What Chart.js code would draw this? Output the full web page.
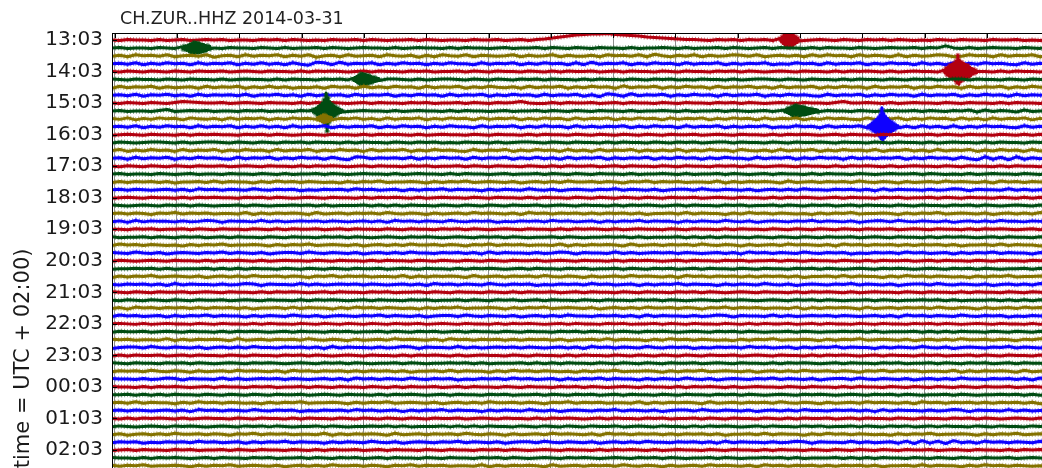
<!DOCTYPE html>
<html>
<head>
<meta charset="utf-8">
<script src="https://cdn.jsdelivr.net/npm/chart.js@4.4.1/dist/chart.umd.min.js"></script>
<style>
  html, body { margin: 0; padding: 0; background: #fff; overflow: hidden; }
  canvas { display: block; }
</style>
</head>
<body>
<canvas id="dayplot" width="1060" height="713"></canvas>
<script>
// Station / day shown in the header and the axis caption
const stationTitle = 'CH.ZUR..HHZ 2014-03-31';
const axisTitle = '(time = UTC + 02:00)';

// One row per hour, four 15-minute traces per row
const hourLabels = ['13:03','14:03','15:03','16:03','17:03','18:03','19:03','20:03','21:03',
  '22:03','23:03','00:03','01:03','02:03','03:03'];

// Trace colours cycle red, green, olive, blue
const traceColors = ['#B2000F', '#004C12', '#847200', '#0E01FF'];
const fuzzColors = ['rgba(178,0,15,0.5)', 'rgba(0,76,18,0.5)', 'rgba(132,114,0,0.5)', 'rgba(14,1,255,0.5)'];

// Minutes covered by each trace
const minuteRange = [-0.043, 14.98];

// Per-trace background noise, one base-36 digit per sample ('5' = zero, each step = one count)
const traceNoise = [
  '54655 46456 45656 45546 56465 45465 56465 45564 65455 46556 45646 79bdf ghhig fedba 98766 54656 46564 65645 65465 46564 65454 65465 54655 64545',
  '56455 46545 64554 65546 54645 56465 45655 46456 55464 65545 64556 46546 54655 46455 65464 55646 54564 65546 46554 65456 55646 59546 45655 46548',
  '46375 64735 64725 63746 57364 72563 74563 75462 63754 73654 57364 57364 46375 64738 53647 36457 64735 64637 47563 74653 73645 76347 56374 65736',
  '56473 64756 37465 73647 46374 28738 46573 64756 36475 53746 57364 75637 38465 73647 56374 65736 46573 54756 37465 73647 56374 63736 47564 37465',
  '54654 65465 46556 45654 65546 46565 45646 55465 64556 46546 55465 46465 56456 46554 65465 54656 46545 65465 54646 56546 45655 46546 55464 65546',
  '65465 54654 65546 45655 46465 54656 46545 66546 45665 46546 54656 46554 64655 46546 56454 65546 45665 46546 55464 65546 54656 45664 65546 54655',
  '37465 73645 63746 57364 74635 46375 63746 47563 74657 36475 46374 65736 47563 84657 36475 63746 57463 74657 36475 63746 57364 75637 46573 64756',
  '56473 65746 37465 64736 57463 74656 37465 73647 56374 65736 47563 74657 36286 38465 73647 56374 65736 47564 37465 73647 56374 65736 47563 74657',
  '54654 65468 76556 45654 65546 46565 45646 55465 64556 46546 56854 46465 56456 46554 65465 54656 46545 65465 54685 56546 45655 46546 55464 65546',
  '56455 46845 65645 54656 45546 56465 45655 46456 55464 65545 64556 46546 54655 46455 65464 55646 54564 65546 46554 65456 55646 54657 37465 37455',
  '64736 47563 75463 74657 36475 64736 57463 74657 36475 63746 57364 75637 46573 64756 37465 73647 56374 65736 47564 37465 73647 56374 63746 57364',
  '56473 64756 37465 73647 46374 65736 46573 64756 36475 53746 57364 75637 46465 73647 56374 65736 46573 54756 37465 73647 56374 63736 47564 37465',
  '45654 65546 46565 54656 46545 65465 54646 56546 45655 46546 55464 65546 54654 65465 46556 45654 65546 46565 45646 55465 64556 46546 55465 46465',
  '46545 66546 45665 46546 54656 46554 64655 46546 56454 65546 45665 46546 55464 65546 54656 45664 65546 54655 65465 54654 65546 45655 46465 54656',
  '57364 75637 46573 64756 37465 73647 56374 65736 47564 37465 73647 56374 63746 57364 64736 47563 75463 74657 36475 64736 57463 74657 36475 63746',
  '56374 65736 47564 37465 73647 56374 28746 56473 64756 37465 73647 46374 65736 46573 64756 36475 53746 57364 75637 46465 73647 56374 28372 83646',
  '54654 65465 46556 45654 65546 46565 45646 55465 64556 46546 55465 46465 56456 46554 65465 54656 46545 65465 54646 56546 45655 46546 55464 65546',
  '56455 46545 64554 65546 54645 56465 45655 46456 55464 65545 64556 46546 54655 46455 65464 55646 54564 65546 46554 65456 55646 54546 45655 46546',
  '46465 64635 56474 65536 47564 65453 64657 45565 36465 74565 46356 46475 56465 36574 65645 54736 46565 37456 46564 75465 36456 47565 46375 64656',
  '56465 45646 37564 65475 46563 54656 47564 56364 65746 55364 65475 46356 54657 46546 35664 75465 46356 46475 54656 46374 65546 45763 65547 46456',
  '45654 65546 46565 54656 46545 65465 54646 56546 45655 46546 55464 65546 54654 65465 46556 45654 65546 46565 45646 55465 64556 46546 55465 46465',
  '65456 54656 46545 56465 45565 64645 55646 46465 54654 65465 46556 45654 65546 46565 45646 55465 64556 46546 56456 46554 65465 54656 46545 65465',
  '56465 36574 65645 54736 46565 37456 46564 75465 36456 47565 46375 64656 46465 64635 56474 65536 47564 65453 64657 45565 36465 74565 46356 46475',
  '46374 65546 45763 65547 46456 56465 45646 37564 65475 46563 54656 47564 56364 65746 55364 65475 46356 54657 46546 35664 75465 46356 46475 54656',
  '55465 64556 46546 55465 46465 56456 46554 65465 54656 46545 65465 54646 56546 45655 46546 55464 65546 54654 65465 46556 45654 65546 46565 45646',
  '64556 46546 56456 46554 65465 54656 46545 65465 65456 54656 46545 56465 45565 64645 55646 46465 54654 65465 46556 45654 65546 46565 45646 55465',
  '47564 65453 64657 45565 36465 74565 46356 46475 56465 36574 65645 54736 46565 37456 46564 75465 36456 47565 46375 64656 46465 64635 56474 65536',
  '65475 46356 54657 46546 35664 75465 46356 46475 54656 46374 65546 45763 65547 46456 56465 45646 37564 65475 46563 54656 47564 56364 65746 55364',
  '46545 65465 54646 56546 45655 46546 55464 65546 54654 65465 46556 45654 65546 46565 45646 55465 64556 46546 55465 46465 56456 46554 65465 54656',
  '45565 64645 55646 46465 54654 65465 46556 45654 65546 46565 45646 55465 64556 46546 56456 46554 65465 54656 46545 65465 65456 54656 46545 56465',
  '36465 74565 46356 46475 56465 36574 65645 54736 46565 37456 46564 75465 36456 47565 46375 64656 46465 64635 56474 65536 47564 65453 64657 45565',
  '54656 46374 65546 45763 65547 46456 56465 45646 37564 65475 46563 54656 47564 56364 65746 55364 65475 46356 54657 46546 35664 75465 46356 46475',
  '65465 46556 45654 65546 46565 45646 55465 64556 46546 55465 46465 56456 46554 65465 54656 46545 65465 54646 56546 45655 46546 55464 65546 54654',
  '54654 65465 46556 45654 65546 46565 45646 55465 64556 46546 56456 46554 65465 54656 46545 65465 65456 54656 46545 56465 45565 64645 55646 46465',
  '46375 64656 46465 64635 56474 65536 47564 65453 64657 45565 36465 74565 46356 46475 56465 36574 65645 54736 46565 37456 46564 75465 36456 47565',
  '47564 56364 65746 55364 65475 46356 54657 46546 35664 75465 46356 46475 54656 46374 65546 45763 65547 46456 56465 45646 37564 65475 46563 54656',
  '56546 45655 46546 55464 65546 54654 65465 46556 45654 65546 46565 45646 55465 64556 46546 55465 46465 56456 46554 65465 54656 46545 65465 54646',
  '46556 45654 65546 46565 45646 55465 64556 46546 56456 46554 65465 54656 46545 65465 65456 54656 46545 56465 45565 64645 55646 46465 54654 65465',
  '65645 54736 46565 37456 46564 75465 36456 47565 46375 64656 46465 64635 56474 65536 47564 65453 64657 45565 36465 74565 46356 46475 56465 36574',
  '35664 75465 46356 46475 54656 46374 65546 45763 65547 46456 56465 45646 37564 65475 46563 54656 47564 56364 65746 55364 65475 46356 54657 46546',
  '46465 56456 46554 65465 54656 46545 65465 54646 56546 45655 46546 55464 65546 54654 65465 46556 45654 65546 46565 45646 55465 64556 46546 55465',
  '65465 54656 46545 65465 65456 54656 46545 56465 45565 64645 55646 46465 54654 65465 46556 45654 65546 46565 45646 55465 64556 46546 56456 46554',
  '46564 75465 36456 47565 46375 64656 46465 64635 56474 65536 47564 65453 64657 45565 36465 74565 46356 46475 56465 36574 65645 54736 46565 37456',
  '65546 45763 65547 46456 56465 45646 37564 65475 46563 54656 47564 56364 65746 55364 65475 46356 54657 46546 35664 75465 46356 46475 54656 46374',
  '65546 46565 45646 55465 64556 46546 55465 46465 56456 46554 65465 54656 46545 65465 54646 56546 45655 46546 55464 65546 54654 65465 46556 45654',
  '55646 46465 54654 65465 46556 45654 65546 46565 45646 55465 64556 46546 56456 46554 65465 54656 46545 65465 65456 54656 46545 56465 45565 64645',
  '56474 65536 47564 65453 64657 45565 36465 74565 46356 46475 56465 36574 65645 54736 46565 37456 46564 75465 36456 47565 46375 64656 46465 64635',
  '56465 45646 37564 65475 46563 54656 47564 56364 65746 55364 65475 46356 54657 46546 35664 75465 46356 46475 54656 46374 65546 45763 65547 46456',
  '54646 56546 45655 46546 55464 65546 54654 65465 46556 45654 65546 46565 45646 55465 64556 46546 55465 46465 56456 46554 65465 54656 46545 65465',
  '46545 65465 65456 54656 46545 56465 45565 64645 55646 46465 54654 65465 46556 45654 65546 46565 45646 55465 64556 46546 56456 46554 65465 54656',
  '46356 46475 56465 36574 65645 54736 46565 37456 46564 75465 36456 47565 46375 64656 46465 64635 56474 65536 47564 65453 64657 45565 36465 74565',
  '46563 54656 47564 56364 65746 55364 65475 46356 54657 46546 35664 75465 46356 46475 54656 46374 65546 45763 65547 46456 37283 72846 37564 65475',
  '45646 55465 64556 46546 55465 46465 56456 46554 65465 54656 46545 65465 54646 56546 45655 46546 55464 65546 54654 65465 46556 45654 65546 46565',
  '65546 46565 45646 55465 64556 46546 56456 46554 65465 54656 46545 65465 65456 54656 46545 56465 45565 64645 55646 46465 54654 65465 46556 45654',
  '64657 45565 36465 74565 46356 46475 56465 36574 65645 54736 46565 37456 46564 75465 36456 47565 46375 64656 46465 64635 56474 65536 47564 65453'
];

// Local earthquakes: trace index, onset (minutes into the trace), sample counts
const eventTrace = [1, 0, 5, 4, 9, 10, 9, 11];
const eventStart = [1.08, 10.68, 3.82, 13.31, 3.17, 3.25, 10.74, 12.09];
const eventStep = 0.016; // minutes between event samples
const eventAmps = [
  [2,-2,3,-3,4,-5,6,-7,8,-9,9,-10,11,-11,11,-10,10,-10,9,-9,8,-8,7,-6,5,-5,4,-3,3,-2],
  [3,-3,6,-7,10,-11,13,-13,14,-14,14,-13,12,-11,9,-8,6,-5,3,-2],
  [2,-2,4,-4,6,-7,9,-10,11,-12,12,-11,11,-10,9,-9,8,-7,7,-6,5,-5,4,-4,3,-3,2,-2],
  [3,-3,6,-6,9,-9,12,-12,14,-14,16,-18,20,-22,32,-26,22,-20,18,-17,16,-15,14,-13,12,-11,9,-8,6,-5,4,-3,2,-2],
  [2,-2,4,-4,6,-7,9,-10,12,-13,16,-18,22,-26,36,-40,26,-22,18,-16,13,-12,10,-9,7,-6,5,-4,3,-3,2,-2],
  [2,-2,4,-4,6,-6,8,-8,7,-7,6,-6,4,-4,3,-2],
  [2,-2,3,-3,5,-5,6,-7,8,-9,10,-10,11,-10,10,-10,9,-9,9,-8,8,-8,7,-7,6,-6,5,-5,4,-4,3,-3,3,-2,2,-2],
  [2,-2,4,-4,7,-7,10,-10,14,-14,18,-18,24,-24,38,-30,26,-22,20,-18,16,-14,12,-11,9,-8,6,-5,4,-3,2,-2]
];

// Vertical scaling: trace offsets per count, pixels per trace row
const countScale = 0.0634;
const rowPixels = 7.885;

function buildTrace(k) {
  const counts = traceNoise[k].replace(/\s+/g, '').split('').map(c => parseInt(c, 36) - 5);
  const n = counts.length;
  let pts = counts.map((c, i) => ({
    x: minuteRange[0] + i * (minuteRange[1] - minuteRange[0]) / (n - 1),
    y: k - c * countScale
  }));
  eventTrace.forEach((t, e) => {
    if (t !== k) return;
    const amps = eventAmps[e];
    const x0 = eventStart[e];
    const x1 = x0 + (amps.length - 1) * eventStep;
    pts = pts.filter(p => p.x < x0 || p.x > x1);
    amps.forEach((a, j) => pts.push({ x: x0 + j * eventStep, y: k - a * countScale }));
  });
  pts.sort((a, b) => a.x - b.x);
  return pts;
}

// Each trace: a speckled halo for the high-frequency noise, then the solid core
const datasets = [];
traceNoise.forEach((_, k) => {
  const data = buildTrace(k);
  datasets.push({
    data,
    borderColor: fuzzColors[k % 4],
    borderWidth: 5.5,
    borderDash: [1, 2],
    borderJoinStyle: 'round',
    pointRadius: 0,
    tension: 0,
    fill: false,
    clip: 0,
    order: -2 * k
  });
  datasets.push({
    data,
    borderColor: traceColors[k % 4],
    borderWidth: 3,
    borderJoinStyle: 'round',
    pointRadius: 0,
    tension: 0,
    fill: false,
    clip: 0,
    order: -2 * k - 1
  });
});

// Keep a fixed pixel pitch between traces once the plot area is known
const rowPitch = {
  id: 'rowPitch',
  afterLayout(chart) {
    const s = chart.scales.y;
    s.max = s.min + (s.bottom - s.top) / rowPixels;
    s.configure();
  }
};

// Header text and the frame/inner tick marks drawn over the traces
const decorations = {
  id: 'decorations',
  afterDatasetsDraw(chart) {
    const { ctx, chartArea: a, scales } = chart;
    ctx.save();
    ctx.strokeStyle = '#000';
    ctx.lineWidth = 1;
    ctx.beginPath();
    ctx.moveTo(a.left + 0.5, a.bottom);
    ctx.lineTo(a.left + 0.5, a.top + 0.5);
    ctx.lineTo(a.right, a.top + 0.5);
    for (let m = 0; m <= 15; m++) {
      const x = Math.round(scales.x.getPixelForValue(m)) + 0.5;
      if (x < a.left || x > a.right) continue;
      ctx.moveTo(x, a.top);
      ctx.lineTo(x, a.top + 5);
    }
    hourLabels.forEach((_, h) => {
      const y = Math.round(scales.y.getPixelForValue(h * 4)) + 0.5;
      ctx.moveTo(a.left, y);
      ctx.lineTo(a.left + 5, y);
    });
    ctx.stroke();
    ctx.fillStyle = '#222';
    ctx.font = '17.5px "DejaVu Sans"';
    ctx.textBaseline = 'middle';
    ctx.textAlign = 'left';
    ctx.fillText(stationTitle, a.left + 8, 19.5);
    ctx.restore();
  }
};

new Chart(document.getElementById('dayplot'), {
  type: 'line',
  data: { datasets },
  plugins: [rowPitch, decorations],
  options: {
    responsive: false,
    animation: false,
    devicePixelRatio: 1,
    parsing: false,
    normalized: true,
    layout: { padding: { top: 33, right: 12, left: 0, bottom: 0 } },
    plugins: { legend: { display: false }, tooltip: { enabled: false }, title: { display: false } },
    scales: {
      x: {
        type: 'linear',
        position: 'top',
        min: minuteRange[0],
        max: minuteRange[1],
        afterBuildTicks: s => { s.ticks = Array.from({ length: 16 }, (_, m) => ({ value: m })); },
        ticks: { display: false },
        grid: { color: '#8e8e8e', lineWidth: 1, drawTicks: false },
        border: { display: true, color: '#000' },
        afterFit: s => { s.height = 0; }
      },
      y: {
        type: 'linear',
        position: 'left',
        reverse: true,
        min: -0.89,
        max: 80,
        afterBuildTicks: s => { s.ticks = hourLabels.map((_, h) => ({ value: h * 4 })); },
        ticks: {
          autoSkip: false,
          padding: 9,
          color: '#1a1a1a',
          font: { family: 'DejaVu Sans', size: 20 },
          callback: v => hourLabels[Math.round(v / 4)]
        },
        grid: { display: false, drawTicks: false },
        border: { display: true, color: '#000' },
        title: {
          display: true,
          text: axisTitle,
          color: '#1a1a1a',
          font: { family: 'DejaVu Sans', size: 21 },
          padding: { top: 10.5, bottom: 0 }
        },
        afterFit: s => { s.width = 112; }
      }
    }
  }
});
</script>
</body>
</html>
